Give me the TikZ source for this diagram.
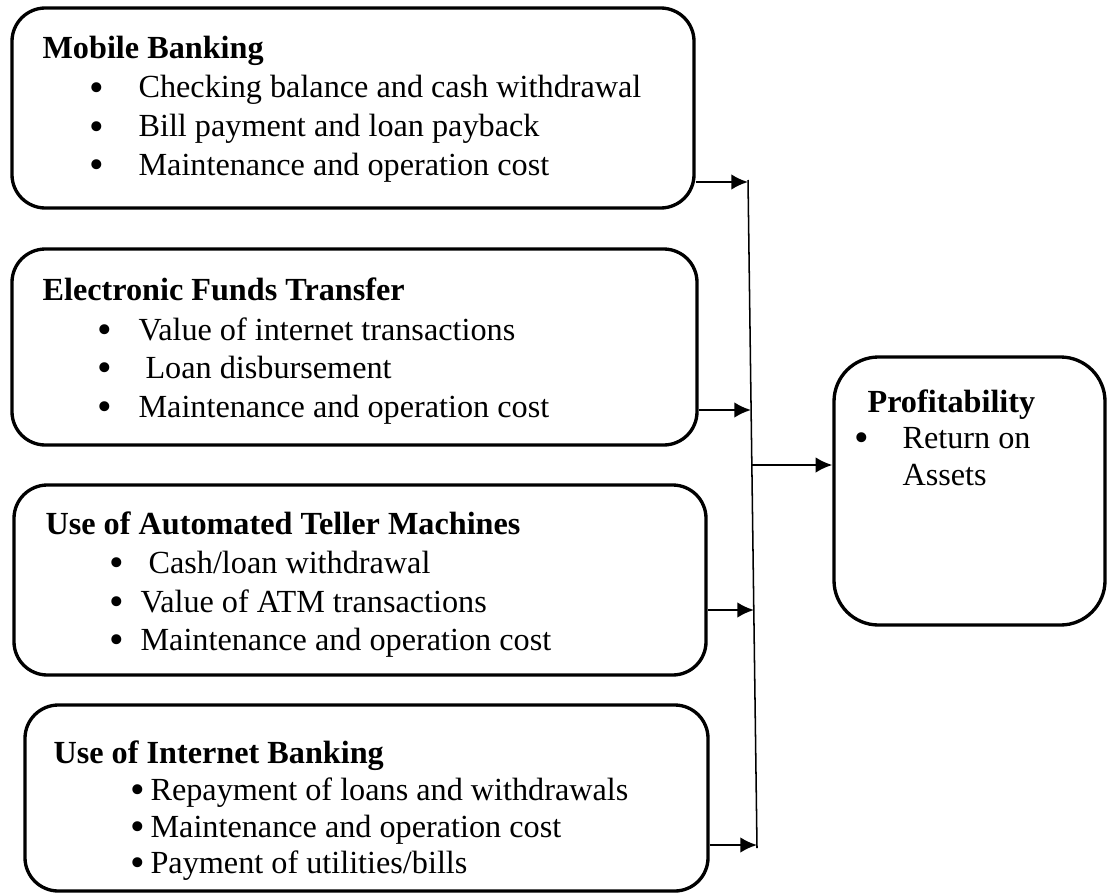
\documentclass[tikz,border=0pt]{standalone}
\usepackage{fontspec}
\setmainfont{Liberation Serif}
\usetikzlibrary{arrows.meta,fit}

\newcommand{\bigdot}{\smash{\raisebox{-1.4pt}{\textbullet}}}

\begin{document}
\begin{tikzpicture}[x=0.36pt,y=-0.36pt,>={Latex[length=6pt,width=5.6pt]},
  every node/.style={font=\fontsize{11.6}{13.8}\selectfont,inner sep=0pt},
  box/.style={draw,line width=1.2pt,rounded corners=12pt},
  head/.style={anchor=base west,font=\fontsize{11.6}{13.8}\selectfont\bfseries},
  item/.style={anchor=base west},
  dot/.style={anchor=base,font=\fontsize{15}{15}\selectfont},
  link/.style={->,line width=0.8pt}]
\useasboundingbox (0,0) rectangle (1107,892);
% boxes
\node[box,fit={(12,8)(694,208)}] (mobile) {};
\node[box,fit={(12,249)(697,445)}] (eft) {};
\node[box,fit={(14,485)(706,675)}] (atm) {};
\node[box,fit={(25,705)(708,891)}] (inet) {};
\node[box,rounded corners=16pt,fit={(834,357)(1105,625)}] (profit) {};
% mobile banking
\node[head] (mobhead) at (42,59) {Mobile Banking};
\node[dot] (mobdot1) at (97,98) {\bigdot};
\node[dot] (mobdot2) at (97,137) {\bigdot};
\node[dot] (mobdot3) at (97,175) {\bigdot};
\node[item] (mobitem1) at (138,98) {Checking balance and cash withdrawal};
\node[item] (mobitem2) at (138,137) {Bill payment and loan payback};
\node[item] (mobitem3) at (138,175) {Maintenance and operation cost};
% electronic funds transfer
\node[head] (efthead) at (42,300) {Electronic Funds Transfer};
\node[dot] (eftdot1) at (105,340) {\bigdot};
\node[dot] (eftdot2) at (105,378) {\bigdot};
\node[dot] (eftdot3) at (105,417) {\bigdot};
\node[item] (eftitem1) at (138,340) {Value of internet transactions};
\node[item] (eftitem2) at (145,378) {Loan disbursement};
\node[item] (eftitem3) at (138,417) {Maintenance and operation cost};
% atm
\node[head] (atmhead) at (45,534) {Use of Automated Teller Machines};
\node[dot] (atmdot1) at (117,573) {\bigdot};
\node[dot] (atmdot2) at (117,612) {\bigdot};
\node[dot] (atmdot3) at (117,650) {\bigdot};
\node[item] (atmitem1) at (148,573) {Cash/loan withdrawal};
\node[item] (atmitem2) at (140,612) {Value of ATM transactions};
\node[item] (atmitem3) at (140,650) {Maintenance and operation cost};
% internet banking
\node[head] (inethead) at (53,763) {Use of Internet Banking};
\node[dot] (inetdot1) at (138,800) {\bigdot};
\node[dot] (inetdot2) at (138,837) {\bigdot};
\node[dot] (inetdot3) at (138,873) {\bigdot};
\node[item] (inetitem1) at (150,800) {Repayment of loans and withdrawals};
\node[item] (inetitem2) at (150,837) {Maintenance and operation cost};
\node[item] (inetitem3) at (150,873) {Payment of utilities/bills};
% profitability
\node[head] (profhead) at (867,412) {Profitability};
\node[dot] (profdot) at (862,448) {\bigdot};
\node[item] (profitem1) at (902,448) {Return on};
\node[item] (profitem2) at (902,485) {Assets};
% bus and arrows
\coordinate (bustop) at (748,180);
\coordinate (busbot) at (757,848);
\coordinate (in1) at (748,182);
\coordinate (in2) at (751,410);
\coordinate (in3) at (754,610);
\coordinate (in4) at (757,845);
\coordinate (tap) at (752,465);
\draw[line width=0.55pt] (bustop)--(busbot);
\draw[link] (mobile.east |- in1)--(in1);
\draw[link] (eft.east |- in2)--(in2);
\draw[link] (atm.east |- in3)--(in3);
\draw[link] (inet.east |- in4)--(in4);
\draw[link] (tap)--(profit.west |- tap);
\end{tikzpicture}
\end{document}
